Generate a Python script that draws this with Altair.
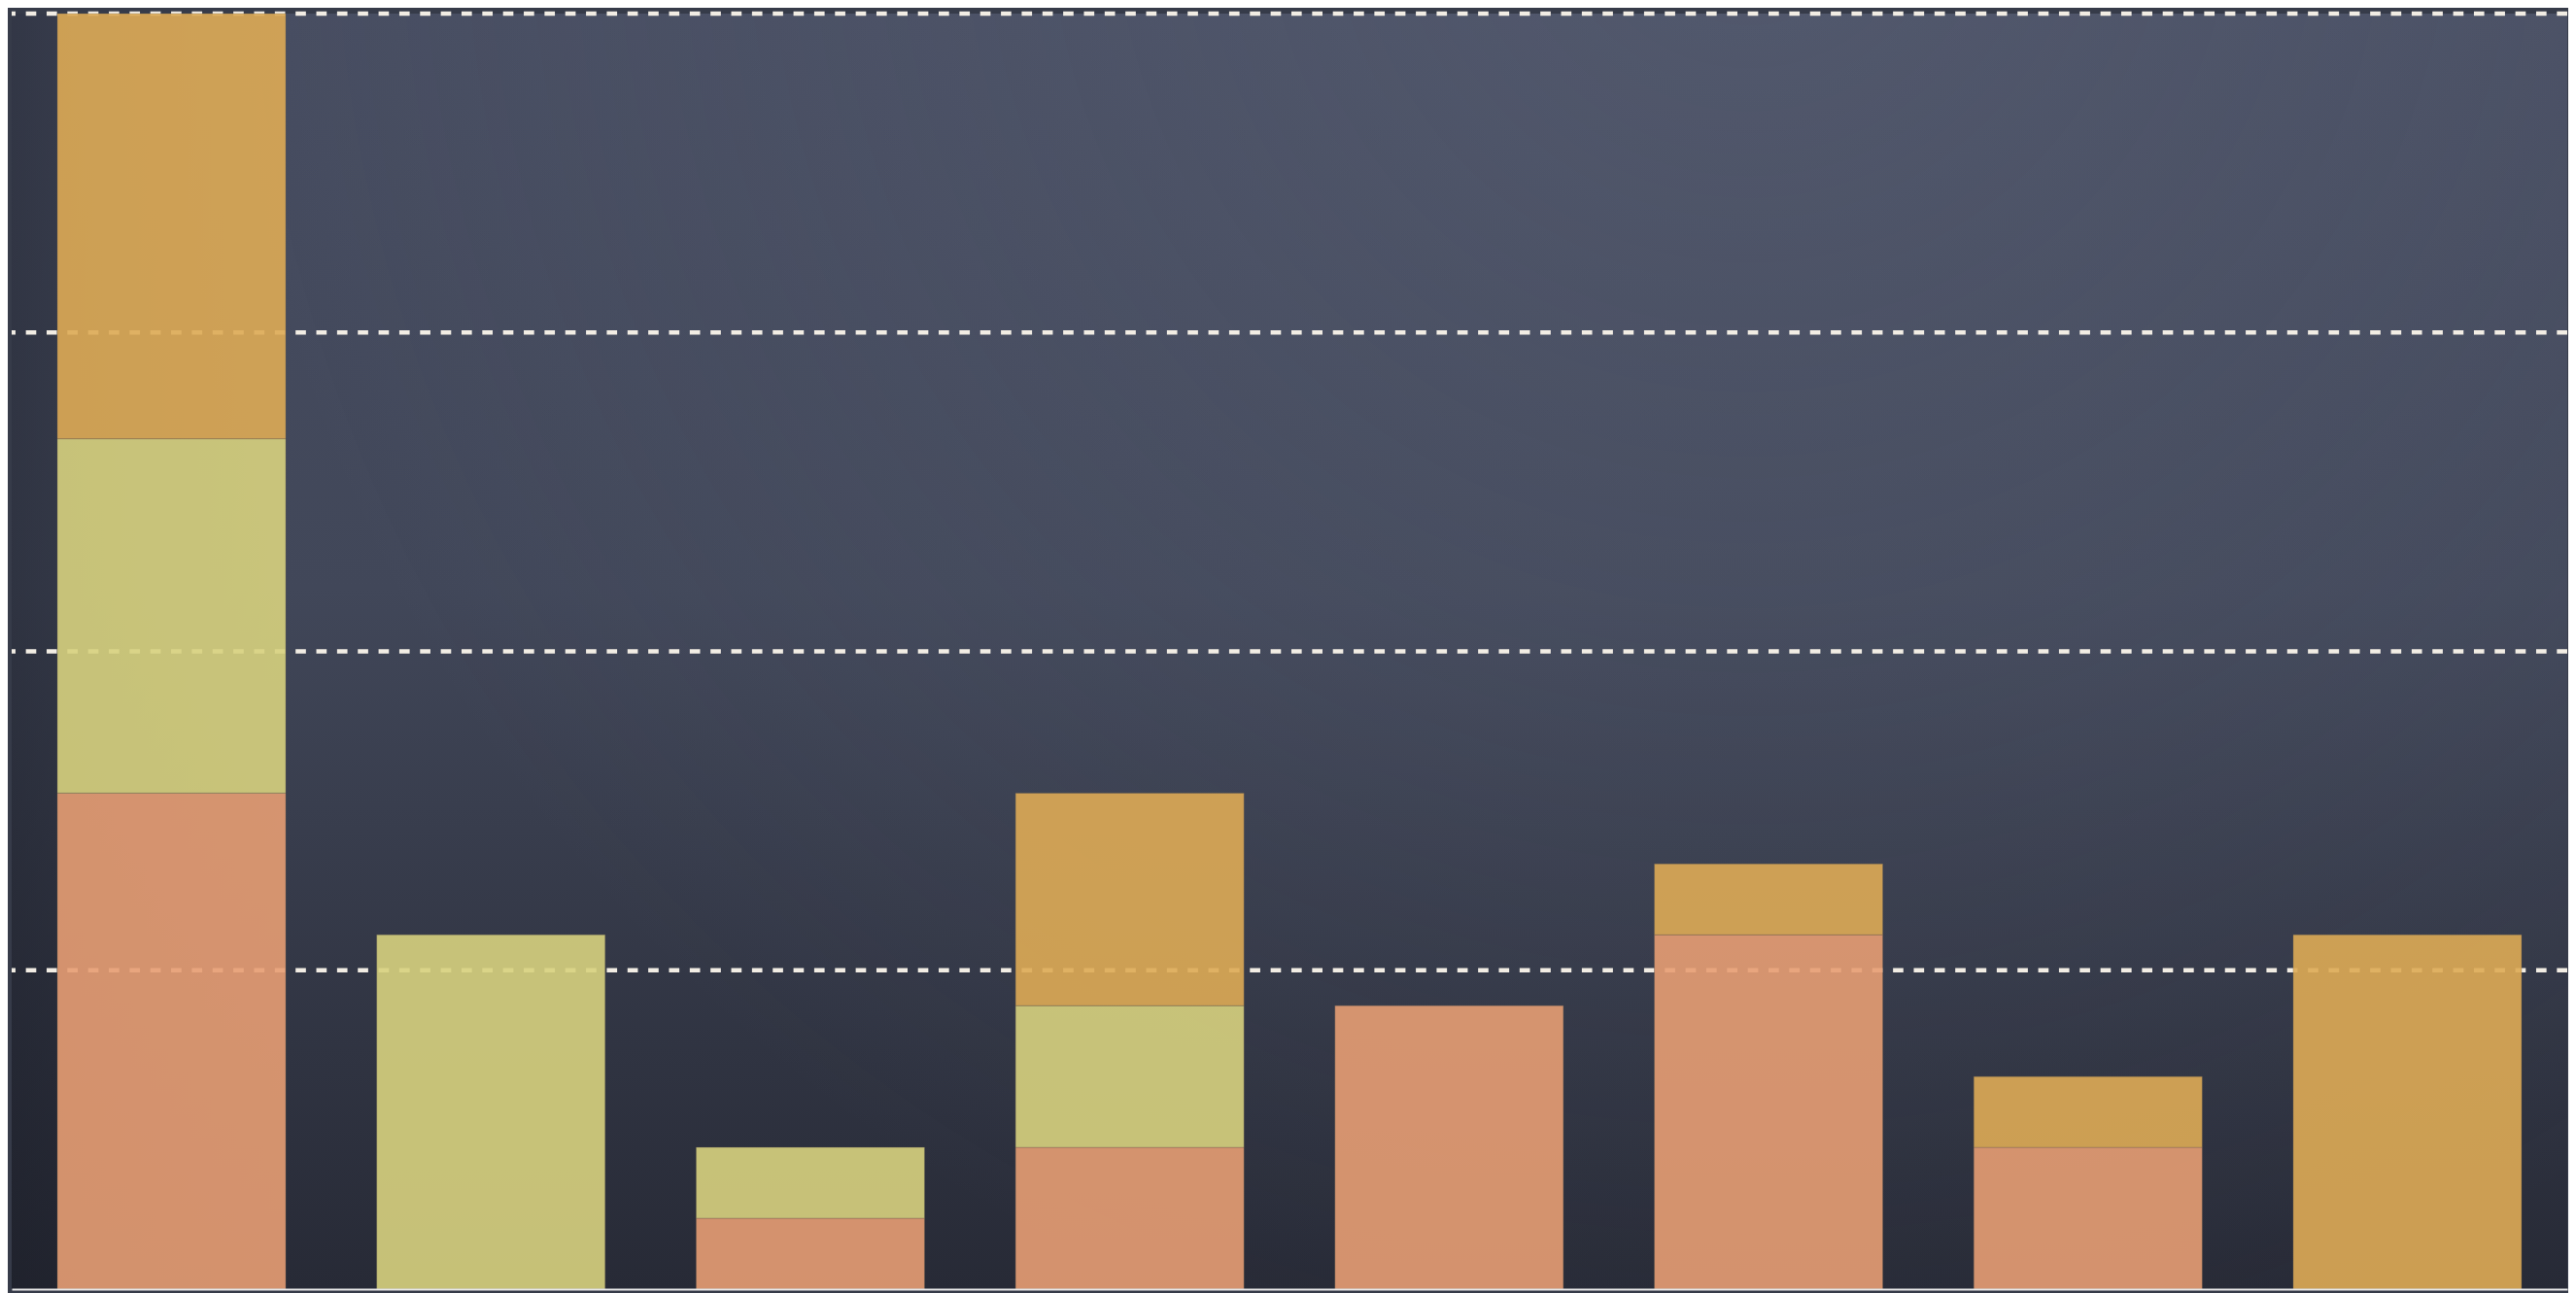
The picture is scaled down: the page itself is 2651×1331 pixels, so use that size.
import altair as alt
import pandas as pd

# ---- data ----
categories = ["1", "2", "3", "4", "5", "6", "7", "8"]
series = ["Series 1", "Series 2", "Series 3"]
series1 = [14, 0, 2, 4, 8, 10, 4, 0]   # salmon (bottom)
series2 = [10, 10, 2, 4, 0, 0, 0, 0]   # yellow-green (middle)
series3 = [12, 0, 0, 6, 0, 2, 2, 10]   # orange (top)
grid_values = [9, 18, 27, 36]
y_max = 36
colors = ["#e79e74", "#d8d27f", "#deab56"]

rows = []
for si, (name, vals) in enumerate(zip(series, [series1, series2, series3])):
    for c, v in zip(categories, vals):
        if v > 0:
            rows.append({"category": c, "series": name, "order": si, "value": v})
df = pd.DataFrame(rows)
grid_df = pd.DataFrame({"g": grid_values})

W, H = 2630, 1313
yscale = alt.Scale(domain=[0, y_max], nice=False, zero=True)

one = alt.Data(values=[{}])
rect_enc = dict(x=alt.value(0), x2=alt.value(W), y=alt.value(0), y2=alt.value(H))

bg_base = alt.Chart(one).mark_rect(
    color={"gradient": "linear", "x1": 0, "y1": 0, "x2": 0, "y2": 1,
           "stops": [{"offset": 0, "color": "#474d61"},
                     {"offset": 0.45, "color": "#414759"},
                     {"offset": 1, "color": "#272a36"}]}
).encode(**rect_enc)

bg_glow = alt.Chart(one).mark_rect(
    color={"gradient": "radial", "x1": 0.68, "y1": 0.2, "r1": 0,
           "x2": 0.68, "y2": 0.2, "r2": 0.6,
           "stops": [{"offset": 0, "color": "rgba(110,118,140,0.28)"},
                     {"offset": 1, "color": "rgba(110,118,140,0)"}]}
).encode(**rect_enc)

bg_left = alt.Chart(one).mark_rect(
    color={"gradient": "linear", "x1": 0, "y1": 0, "x2": 1, "y2": 0,
           "stops": [{"offset": 0, "color": "rgba(20,22,30,0.4)"},
                     {"offset": 0.11, "color": "rgba(20,22,30,0)"}]}
).encode(**rect_enc)

grid = alt.Chart(grid_df).mark_rule(
    color="#f2ede4", strokeWidth=4.5, strokeDash=[10.67, 10.68]
).encode(y=alt.Y("g:Q", scale=yscale, axis=None))

bars = alt.Chart(df).mark_bar(
    opacity=0.9, stroke="#6e6250", strokeWidth=1, strokeOpacity=0.35
).encode(
    x=alt.X("category:N", sort=categories,
            scale=alt.Scale(paddingInner=0.285, paddingOuter=0.143),
            axis=alt.Axis(labels=False, ticks=False, title=None, grid=False,
                          domainColor="#e8e8e8", domainWidth=2, zindex=1)),
    y=alt.Y("value:Q", stack="zero", scale=yscale, axis=None),
    color=alt.Color("series:N", scale=alt.Scale(domain=series, range=colors), legend=None),
    order=alt.Order("order:Q", sort="ascending"),
)

chart = alt.layer(bg_base, bg_glow, bg_left, grid, bars).properties(
    width=W, height=H,
    padding={"left": 4, "top": 6, "right": 1, "bottom": 4},
    autosize=alt.AutoSizeParams(type="none"),
).configure(background="#363b49").configure_view(strokeWidth=0)

chart.save("out.html", embed_options={"renderer": "svg", "actions": False})
